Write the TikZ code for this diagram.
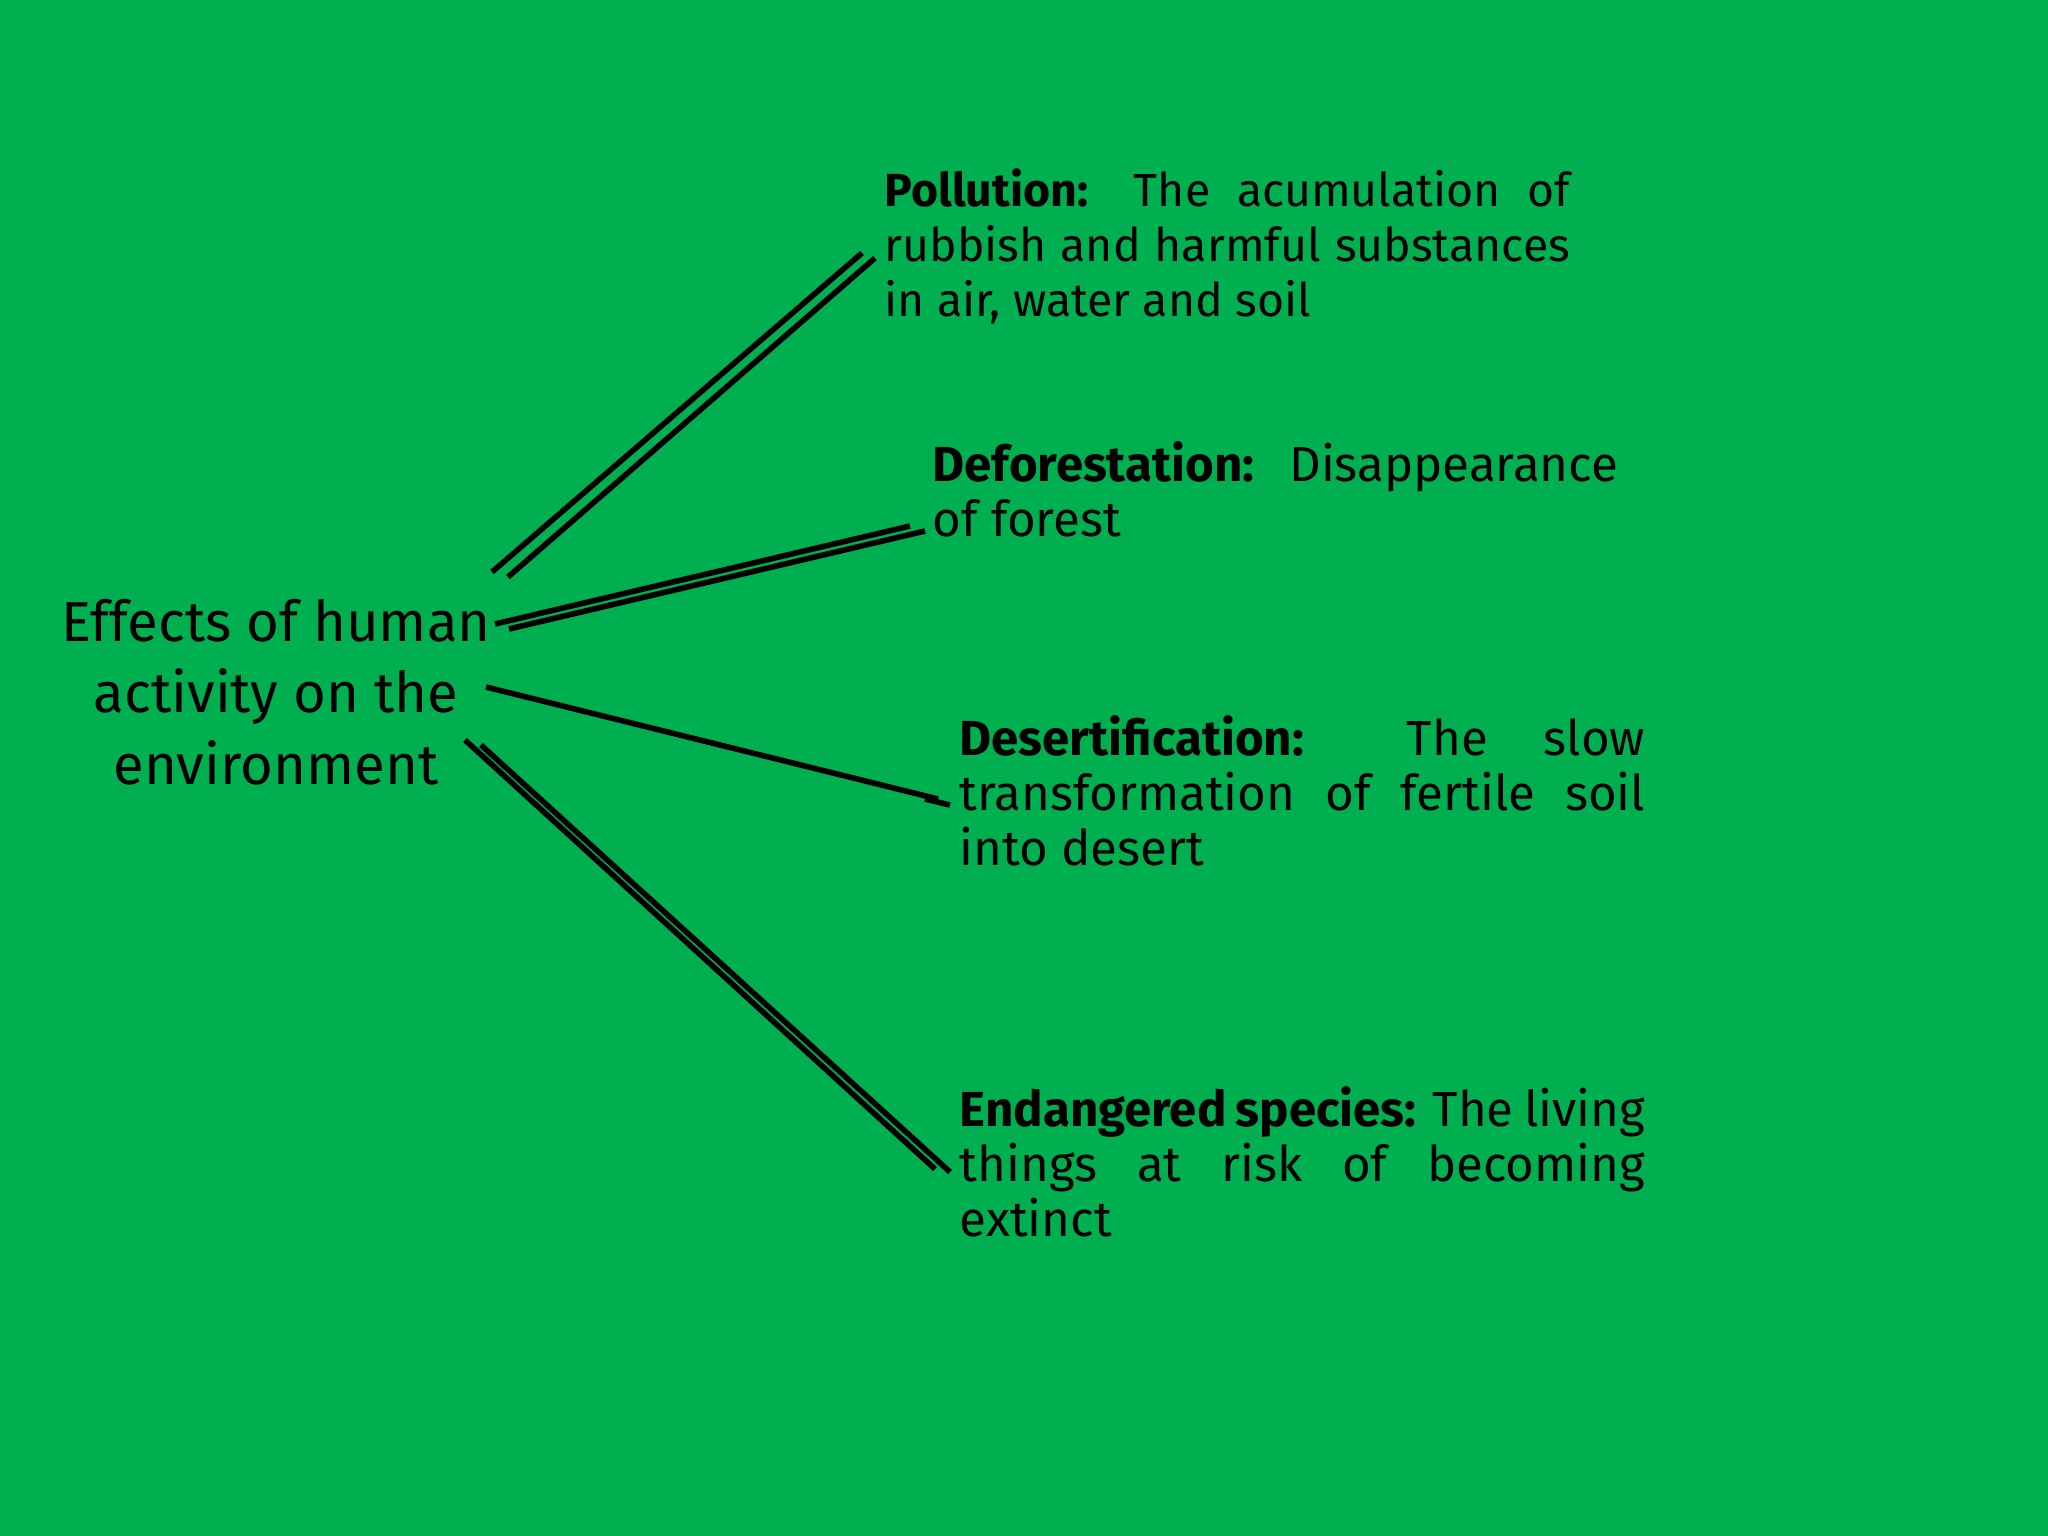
\documentclass[tikz,border=0pt]{standalone}
\usepackage{fontspec}
\setmainfont{Fira Sans}
\definecolor{bg}{HTML}{00B050}
\definecolor{shade}{HTML}{358F47}
\newcommand\nohyph{\hyphenpenalty=10000 \exhyphenpenalty=10000 \relax}
\begin{document}
\begin{tikzpicture}[x=0.01cm,y=-0.01cm,
  desc/.style={anchor=north west,inner sep=0pt,text width=6.85cm,align=justify,font=\fontsize{14}{15.6}\selectfont,execute at begin node=\nohyph},
  link/.style={line width=1.6pt,black},
  shadow/.style={line width=1.6pt,shade}]
\useasboundingbox (0,0) rectangle (2048,1536);
\fill[bg] (0,0) rectangle (2048,1536);
\node[align=center,inner sep=0pt,font=\fontsize{16}{20.4}\selectfont] (main) at (276,692) {Effects of human\\activity on the\\environment};
\node[desc,font=\fontsize{13.2}{15.6}\selectfont] (pol) at (884,168) {\textbf{Pollution:} The acumulation of\linebreak rubbish and harmful substances\linebreak in air, water and soil};
\node[desc] (def) at (932,441) {\textbf{Deforestation:} \ Disappearance of forest};
\node[desc] (des) at (959,715) {\textbf{Desertification:} The slow transformation of fertile soil into desert};
\node[desc] (end) at (959,1086) {\textbf{Endangered species:} The living things at risk of becoming extinct};
\coordinate (a1) at (492,572); \coordinate (b1) at (862,253);
\coordinate (a2) at (495,624); \coordinate (b2) at (910,526);
\coordinate (a3) at (486,687); \coordinate (b3) at (938,799);
\coordinate (a4) at (465,740); \coordinate (b4) at (935,1169);
\coordinate (s1) at (508,577); \coordinate (t1) at (875,258);
\coordinate (s2) at (509,629); \coordinate (t2) at (925,531);
\coordinate (s4) at (481,745); \coordinate (t4) at (950,1172);
\coordinate (s3) at (925,799); \coordinate (t3) at (950,805);
\draw[shadow] (s1) -- (t1);
\draw[shadow] (s2) -- (t2);
\draw[shadow] (s3) -- (t3);
\draw[shadow] (s4) -- (t4);
\draw[link] (a1) -- (b1);
\draw[link] (a2) -- (b2);
\draw[link] (a3) -- (b3);
\draw[link] (a4) -- (b4);
\end{tikzpicture}
\end{document}
